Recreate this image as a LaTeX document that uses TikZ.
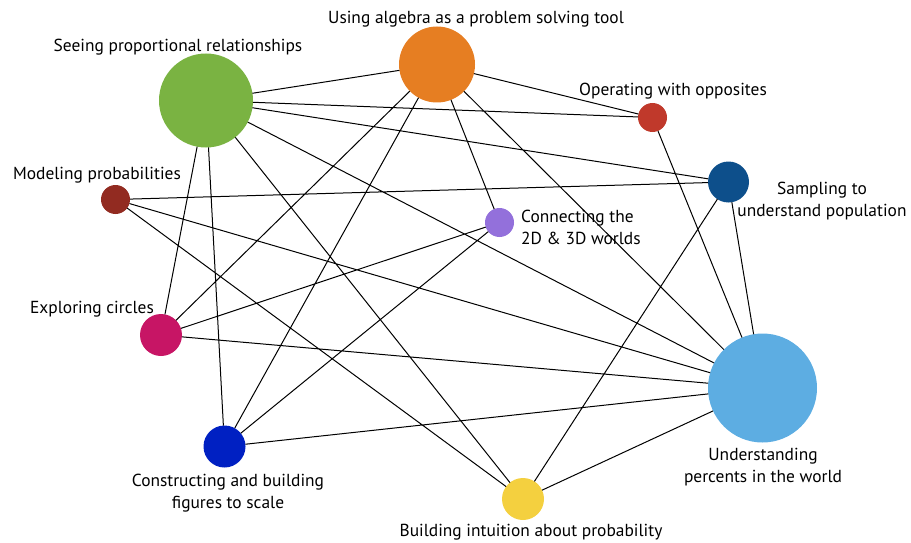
\documentclass[tikz,border=0pt]{standalone}
\usepackage{fontspec}
\setmainfont{PT Sans}
\usepackage{tikz}
\usetikzlibrary{shapes.misc, shapes}

\definecolor{cprop}{HTML}{7AB342}
\definecolor{calg}{HTML}{E67E22}
\definecolor{copp}{HTML}{C0392B}
\definecolor{csamp}{HTML}{0D4F8B}
\definecolor{cmod}{HTML}{922B21}
\definecolor{cconn}{HTML}{9370DB}
\definecolor{ccirc}{HTML}{C71565}
\definecolor{cperc}{HTML}{5DADE2}
\definecolor{ccons}{HTML}{0020C2}
\definecolor{cintu}{HTML}{F4D03F}

\tikzset{
	topic/.style={circle, inner sep=0pt, outer sep=0pt, minimum size=#1},
	topictext/.style={font=\fontsize{17.4}{22}\selectfont, align=center, inner sep=0pt},
	link/.style={line width=1pt, black},
}

\begin{document}
\begin{tikzpicture}[x=1pt, y=-1pt]
	\useasboundingbox (0,0) rectangle (911,543);
	% topics
	\node[topic=94pt, fill=cprop] (prop) at (206,100.5) {};
	\node[topic=76pt, fill=calg] (alg) at (437,64.5) {};
	\node[topic=29pt, fill=copp] (opp) at (652.5,117.5) {};
	\node[topic=41pt, fill=csamp] (samp) at (728.5,182) {};
	\node[topic=29pt, fill=cmod] (mod) at (115.5,199.5) {};
	\node[topic=29pt, fill=cconn] (conn) at (499.5,222.5) {};
	\node[topic=42pt, fill=ccirc] (circ) at (161,335) {};
	\node[topic=109pt, fill=cperc] (perc) at (762.5,388) {};
	\node[topic=42pt, fill=ccons] (cons) at (224.5,446.5) {};
	\node[topic=42pt, fill=cintu] (intu) at (523,499) {};
	% labels
	\node[topictext] (lalg) at (476,19) {Using algebra as a problem solving tool};
	\node[topictext] (lprop) at (178,47) {Seeing proportional relationships};
	\node[topictext] (lopp) at (673,91) {Operating with opposites};
	\node[topictext] (lsamp) at (822,201) {Sampling to\\understand population};
	\node[topictext] (lmod) at (97,175) {Modeling probabilities};
	\node[topictext, anchor=west, align=left] (lconn) at (521,227) {Connecting the\\2D \& 3D worlds};
	\node[topictext] (lcirc) at (92,309) {Exploring circles};
	\node[topictext] (lcons) at (228,493) {Constructing and building\\figures to scale};
	\node[topictext] (lintu) at (531,532) {Building intuition about probability};
	\node[topictext] (lperc) at (763,467) {Understanding\\percents in the world};
	% links
	\draw[link]
		(prop) -- (alg)
		(prop) -- (opp)
		(prop) -- (samp)
		(prop) -- (perc)
		(prop) -- (intu)
		(prop) -- (circ)
		(prop) -- (cons)
		(alg) -- (opp)
		(alg) -- (circ)
		(alg) -- (cons)
		(alg) -- (conn)
		(alg) -- (perc)
		(opp) -- (perc)
		(samp) -- (mod)
		(samp) -- (intu)
		(samp) -- (perc)
		(mod) -- (perc)
		(mod) -- (intu)
		(conn) -- (circ)
		(conn) -- (cons)
		(circ) -- (perc)
		(cons) -- (perc)
		(intu) -- (perc)
		;
\end{tikzpicture}
\end{document}
